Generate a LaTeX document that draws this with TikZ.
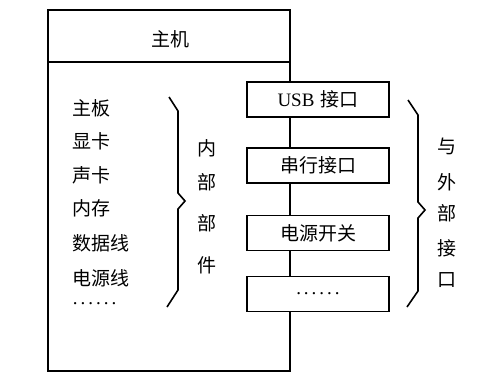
\documentclass[tikz,border=0pt]{standalone}
\usepackage{fontspec}
\setmainfont{Liberation Serif}
\newfontfamily\cjk{Noto Sans CJK SC}
\newcommand\sixdots{.\hspace{3pt}.\hspace{3pt}.\hspace{3pt}.\hspace{3pt}.\hspace{3pt}.}
\begin{document}
\begin{tikzpicture}[x=1pt,y=-1pt,
  line width=1.6pt,
  txt/.style={font=\fontsize{19}{22}\selectfont\cjk, inner sep=0pt},
  item/.style={txt, anchor=west},
  portbox/.style={draw, minimum width=142pt, minimum height=35pt, inner sep=0pt, font=\fontsize{19}{22}\selectfont\cjk},
  brace/.style={line width=1.6pt, line join=miter}]
\useasboundingbox (0,0) rectangle (499,372);
\coordinate (spine) at (290,0);
% title
\node[txt] (host) at (170,39) {主机};
% port boxes
\node[portbox] (usb) at (318,99.5) {{\rmfamily USB}\hspace{6pt}接口};
\node[portbox] (serial) at (318,165.5) {串行接口};
\node[portbox] (power) at (318,233) {电源开关};
\node[portbox] (more) at (318,294) {\rmfamily\sixdots};
% frame
\draw (usb.north -| spine) -- (290,10) -- (48,10) -- (48,371) -- (290,371) -- (more.south -| spine);
\draw (48,62) -- (290,62);
\draw (usb.south -| spine) -- (serial.north -| spine);
\draw (serial.south -| spine) -- (power.north -| spine);
\draw (power.south -| spine) -- (more.north -| spine);
% internal list
\node[item] (mb) at (72,108) {主板};
\node[item] (gpu) at (72,141) {显卡};
\node[item] (snd) at (72,175) {声卡};
\node[item] (mem) at (72,208) {内存};
\node[item] (dat) at (72,243) {数据线};
\node[item] (pwl) at (72,278) {电源线};
\node[item] (etc) at (72,304) {\rmfamily\sixdots};
% left brace
\draw[brace] (169,97) -- (178,111) -- (178,193) -- (185,201) -- (178,209) -- (178,290) -- (167,307);
\node[txt] (n1) at (207,148) {内};
\node[txt] (n2) at (207,182) {部};
\node[txt] (n3) at (207,223) {部};
\node[txt] (n4) at (207,265) {件};
% right brace
\draw[brace] (408,100) -- (418,115) -- (418,202) -- (425,210) -- (418,218) -- (418,291) -- (407,307);
\node[txt] (w1) at (447,146) {与};
\node[txt] (w2) at (447,182) {外};
\node[txt] (w3) at (447,213) {部};
\node[txt] (w4) at (447,248) {接};
\node[txt] (w5) at (447,280) {口};
\end{tikzpicture}
\end{document}
